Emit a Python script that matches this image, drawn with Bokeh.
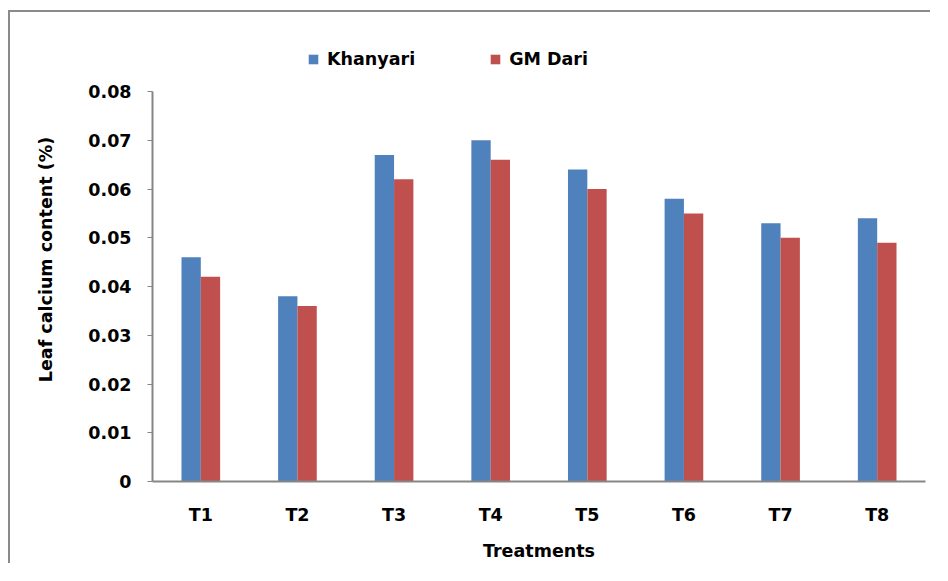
from bokeh.plotting import figure
from bokeh.layouts import column
from bokeh.models import (FactorRange, Range1d, Legend, LegendItem, SingleIntervalTicker,
                          ColumnDataSource, CustomJSTickFormatter)
from bokeh.transform import dodge
from bokeh.embed import file_html
from bokeh.resources import INLINE

treatments = ["T1", "T2", "T3", "T4", "T5", "T6", "T7", "T8"]
khanyari = [0.046, 0.038, 0.067, 0.070, 0.064, 0.058, 0.053, 0.054]
gm_dari = [0.042, 0.036, 0.062, 0.066, 0.060, 0.055, 0.050, 0.049]

FONT = "DejaVu Sans"
BLUE = "#4F81BD"
RED = "#C0504D"
GRAY = "#868686"

src = ColumnDataSource(dict(t=treatments, k=khanyari, g=gm_dari))

W, H = 922, 553
TOP, BOTTOM, LEFT, RIGHT = 25, 84, 142, 7
AXIS_TOP_PX = 54  # gap between frame top and the 0.08 tick
frame_h = H - TOP - BOTTOM
y_end = 0.08 * frame_h / (frame_h - AXIS_TOP_PX)

p = figure(width=W, height=H, output_backend="svg", toolbar_location=None,
           x_range=FactorRange(*treatments, range_padding=0),
           y_range=Range1d(0, y_end),
           min_border_left=LEFT, min_border_right=RIGHT,
           min_border_top=TOP, min_border_bottom=BOTTOM,
           styles={"border-left": "2px solid #8a8a8a", "border-top": "2px solid #8a8a8a"})
p.outline_line_color = None
p.xgrid.grid_line_color = None
p.ygrid.grid_line_color = None

r1 = p.vbar(x=dodge("t", -0.1, range=p.x_range), top="k", width=0.2, source=src,
            fill_color=BLUE, line_color=None)
r2 = p.vbar(x=dodge("t", 0.1, range=p.x_range), top="g", width=0.2, source=src,
            fill_color=RED, line_color=None)

# y axis
p.yaxis.bounds = (0, 0.08)
p.yaxis.ticker = SingleIntervalTicker(interval=0.01)
p.yaxis.minor_tick_line_color = None
p.yaxis.major_tick_out = 5
p.yaxis.major_tick_in = 0
p.yaxis.major_tick_line_color = GRAY
p.yaxis.axis_line_color = GRAY
p.yaxis.axis_line_width = 2
p.yaxis.major_label_standoff = 16
p.yaxis.major_label_text_font = FONT
p.yaxis.major_label_text_font_style = "bold"
p.yaxis.major_label_text_font_size = "17.5px"
p.yaxis.major_label_text_color = "black"
p.yaxis.formatter = CustomJSTickFormatter(code="return tick == 0 ? '0' : tick.toFixed(2);")
p.yaxis.axis_label = "Leaf calcium content (%)"
p.yaxis.axis_label_text_font = FONT
p.yaxis.axis_label_text_font_style = "bold"
p.yaxis.axis_label_text_font_size = "17.5px"
p.yaxis.axis_label_text_color = "black"
p.yaxis.axis_label_standoff = 29

# x axis
p.xaxis.major_tick_line_color = None
p.xaxis.minor_tick_line_color = None
p.xaxis.major_tick_out = 0
p.xaxis.axis_line_color = GRAY
p.xaxis.axis_line_width = 2
p.xaxis.major_label_standoff = 23
p.xaxis.major_label_text_font = FONT
p.xaxis.major_label_text_font_style = "bold"
p.xaxis.major_label_text_font_size = "17.5px"
p.xaxis.major_label_text_color = "black"
p.xaxis.axis_label = "Treatments"
p.xaxis.axis_label_text_font = FONT
p.xaxis.axis_label_text_font_style = "bold"
p.xaxis.axis_label_text_font_size = "17.5px"
p.xaxis.axis_label_text_color = "black"
p.xaxis.axis_label_standoff = 13

legend = Legend(items=[LegendItem(label="Khanyari", renderers=[r1]),
                       LegendItem(label="GM Dari", renderers=[r2])],
                orientation="horizontal", location=(155, 412),
                padding=0, margin=0, spacing=74,
                glyph_width=12, glyph_height=12, label_standoff=8,
                border_line_color=None, background_fill_alpha=0,
                label_text_font=FONT, label_text_font_style="bold",
                label_text_font_size="17.5px", label_text_color="black")
p.add_layout(legend, "center")

layout = column(p, styles={"padding-left": "8px", "padding-top": "10px"})
open("out.html", "w").write(file_html(layout, INLINE))
